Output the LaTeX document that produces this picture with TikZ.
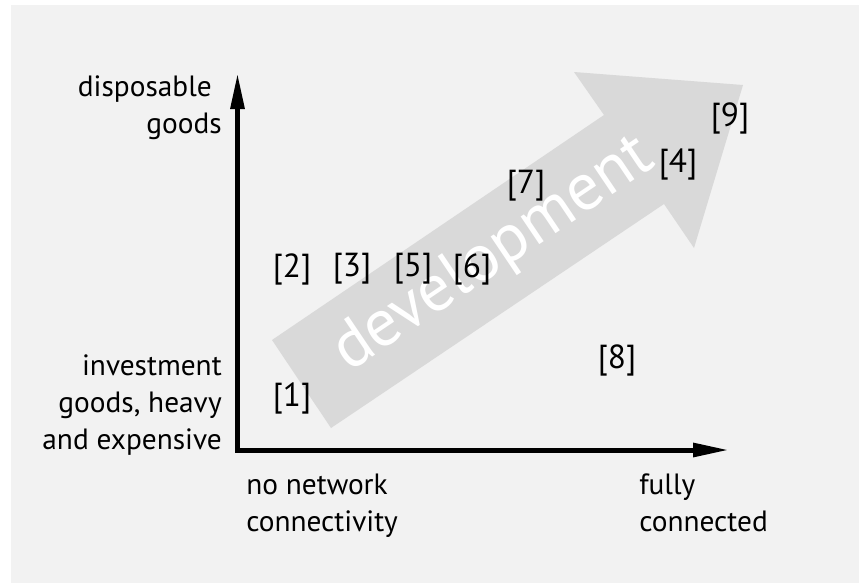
\documentclass[tikz,border=0pt]{standalone}
\usepackage{fontspec}
\setmainfont{PT Sans}
\usetikzlibrary{arrows.meta,positioning}
\definecolor{bggray}{RGB}{242,242,242}
\definecolor{devgray}{RGB}{217,217,217}

\begin{document}
\begin{tikzpicture}[x=0.75pt, y=-0.75pt,
  axis/.style={line width=3.75pt, -{Triangle[length=27pt,width=10pt]}},
  lbl/.style={inner sep=0pt, font=\fontsize{22}{28}\selectfont},
  num/.style={inner sep=0pt, font=\fontsize{25}{30}\selectfont}]
%\draw[step=20,gray,very thin] (0,0) grid (861,583);
\useasboundingbox (0,0) rectangle (861,583);
\fill[white] (0,0) rectangle (861,583);
\fill[bggray] (11,5) rectangle (859,583);
% big arrow
\fill[devgray] (272,340) -- (604,115) -- (574,72) -- (743,85) -- (694,248) -- (664,204) -- (331,428) -- cycle;
\node[white, rotate=34, inner sep=0pt, font=\fontsize{50}{50}\selectfont] (dev) at (494,255) {development};
% axes
\coordinate (orig) at (237.5,452.7);
\coordinate (ytip) at (237.5,73);
\coordinate (xorig) at (235,450);
\coordinate (xtip) at (729,450);
\draw[axis] (orig) -- (ytip);%%
\draw[axis] (xorig) -- (xtip);%%
% axis labels
\node[lbl, align=right, anchor=east] (yhigh) at (222,108) {disposable\kern7.5pt\\goods};%%
\node[lbl, align=right, anchor=east] (ylow) at (222,405) {investment\\goods, heavy\\and expensive};%%
\node[lbl, align=left, anchor=west] (xlow) at (246,506) {no network\\connectivity};%%
\node[lbl, align=left, anchor=west] (xhigh) at (639,503) {fully\\connected};%%
% references
\node[num] (r1) at (292,398) {[1]};%%
\node[num] (r2) at (292,269) {[2]};%%
\node[num] (r3) at (352,269) {[3]};%%
\node[num] (r5) at (413,269) {[5]};%%
\node[num] (r6) at (472,269) {[6]};%%
\node[num] (r7) at (526,186) {[7]};%%
\node[num] (r4) at (678,164) {[4]};%%
\node[num] (r9) at (730,118) {[9]};%%
\node[num] (r8) at (617,360) {[8]};%%
\end{tikzpicture}
\end{document}
